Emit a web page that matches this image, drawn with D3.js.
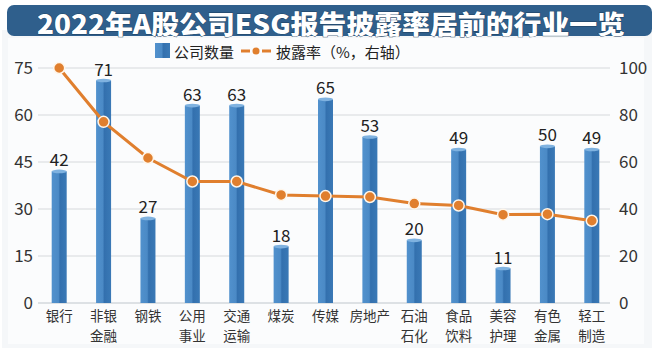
<!DOCTYPE html>
<html><head><meta charset="utf-8">
<script src="https://cdn.jsdelivr.net/npm/d3@7"></script>
<style>
html,body{margin:0;padding:0;background:#fff;}
svg{display:block;}
text{font-family:"Noto Sans CJK SC","Noto Sans",sans-serif;}
</style></head>
<body>
<svg id="c" width="660" height="356"></svg>
<script>
const categories = [["银行"],["非银","金融"],["钢铁"],["公用","事业"],["交通","运输"],["煤炭"],["传媒"],["房地产"],["石油","石化"],["食品","饮料"],["美容","护理"],["有色","金属"],["轻工","制造"]];
const companyCounts = [42,71,27,63,63,18,65,53,20,49,11,50,49];
const disclosureRate = [100,77.1,61.7,51.7,51.7,46.0,45.5,45.1,42.3,41.5,37.6,37.8,35.0];
const leftTicks = [0,15,30,45,60,75];
const rightTicks = [0,20,40,60,80,100];
const titleText = "2022年A股公司ESG报告披露率居前的行业一览";
const legendBar = "公司数量";
const legendLine = "披露率（%，右轴）";

const svg = d3.select("#c");
const W=660,H=356;
const m={left:37,right:614,top:68,bottom:303};

svg.append("rect").attr("x",0).attr("y",0).attr("width",W).attr("height",H).attr("fill","#ffffff");
svg.append("rect").attr("x",2).attr("y",30).attr("width",650).attr("height",318).attr("fill","#f5f7f9");
svg.append("rect").attr("x",8).attr("y",38).attr("width",636).attr("height",306).attr("fill","#ffffff").attr("opacity",0.6);

svg.append("rect").attr("x",7).attr("y",5).attr("width",645).attr("height",31).attr("rx",7).attr("fill","#2f5f8c");
svg.append("text").attr("x",331).attr("y",22).attr("text-anchor","middle").attr("dominant-baseline","central")
  .attr("font-size",26).attr("font-weight",900).attr("fill","#ffffff")
  .attr("stroke","#1d3f60").attr("stroke-width",0.8).attr("paint-order","stroke")
  .attr("textLength",588).attr("lengthAdjust","spacingAndGlyphs").text(titleText);

const x = d3.scaleBand().domain(d3.range(categories.length)).range([m.left,m.right]).padding(0);
const yL = d3.scaleLinear().domain([0,75]).range([m.bottom,m.top]);
const yR = d3.scaleLinear().domain([0,100]).range([m.bottom,m.top]);

const defs = svg.append("defs");
const g = defs.append("linearGradient").attr("id","bg").attr("x1","0").attr("x2","1").attr("y1","0").attr("y2","0");
g.append("stop").attr("offset","0%").attr("stop-color","#5191cd");
g.append("stop").attr("offset","45%").attr("stop-color","#4b8ac6");
g.append("stop").attr("offset","55%").attr("stop-color","#3370ae");
g.append("stop").attr("offset","100%").attr("stop-color","#3a79b6");

const grid = svg.append("g");
grid.selectAll("line").data(leftTicks).join("line")
  .attr("x1",38).attr("x2",610).attr("y1",d=>yL(d)).attr("y2",d=>yL(d))
  .attr("stroke",d=>d===0?"#bfc6cc":"#d6d9dc").attr("stroke-width",1);

const axL = svg.append("g").attr("transform",`translate(${m.left},0)`)
  .call(d3.axisLeft(yL).tickValues(leftTicks).tickSize(0).tickPadding(4));
axL.select(".domain").remove();
axL.selectAll("text").attr("font-size",17).attr("fill","#333").attr("font-family","Liberation Sans, Arial, sans-serif");

const axR = svg.append("g").attr("transform",`translate(617,0)`)
  .call(d3.axisRight(yR).tickValues(rightTicks).tickSize(0).tickPadding(2));
axR.select(".domain").remove();
axR.selectAll("text").attr("font-size",17).attr("fill","#333").attr("font-family","Liberation Sans, Arial, sans-serif");

const bw = 15;
const bars = svg.append("g");
bars.selectAll("rect").data(companyCounts).join("rect")
  .attr("x",(d,i)=>x(i)+x.bandwidth()/2-bw/2).attr("y",d=>yL(d))
  .attr("width",bw).attr("height",d=>yL(0)-yL(d)).attr("fill","url(#bg)");
bars.selectAll("ellipse").data(companyCounts).join("ellipse")
  .attr("cx",(d,i)=>x(i)+x.bandwidth()/2).attr("cy",d=>yL(d))
  .attr("rx",bw/2).attr("ry",1.8).attr("fill","#7fb2e0");

svg.append("g").selectAll("text").data(companyCounts).join("text")
  .attr("x",(d,i)=>x(i)+x.bandwidth()/2).attr("y",d=>yL(d)-5)
  .attr("text-anchor","middle").attr("font-size",17).attr("fill","#222")
  .attr("font-family","Liberation Sans, Arial, sans-serif").text(d=>d);

const line = d3.line().x((d,i)=>x(i)+x.bandwidth()/2).y(d=>yR(d));
svg.append("path").datum(disclosureRate).attr("d",line).attr("fill","none")
  .attr("stroke","#e07f2e").attr("stroke-width",3);
svg.append("g").selectAll("circle").data(disclosureRate).join("circle")
  .attr("cx",(d,i)=>x(i)+x.bandwidth()/2).attr("cy",d=>yR(d)).attr("r",5.5)
  .attr("fill","#e07f2e").attr("stroke","#fff6ea").attr("stroke-width",1.5);

const cg = svg.append("g");
categories.forEach((d,i)=>{
  d.forEach((s,k)=>{
    cg.append("text").attr("x",x(i)+x.bandwidth()/2).attr("y",321+k*20)
      .attr("text-anchor","middle").attr("font-size",13.5).attr("fill","#333").text(s);
  });
});

const lg = svg.append("g");
lg.append("rect").attr("x",155).attr("y",43).attr("width",15).attr("height",15).attr("fill","url(#bg)");
lg.append("text").attr("x",174).attr("y",51).attr("dominant-baseline","central").attr("font-size",15).attr("fill","#222").text(legendBar);
lg.append("line").attr("x1",241).attr("x2",250).attr("y1",51).attr("y2",51).attr("stroke","#e07f2e").attr("stroke-width",3);
lg.append("line").attr("x1",262).attr("x2",271).attr("y1",51).attr("y2",51).attr("stroke","#e07f2e").attr("stroke-width",3);
lg.append("circle").attr("cx",256).attr("cy",51).attr("r",3.5).attr("fill","#e07f2e");
lg.append("text").attr("x",276).attr("y",51).attr("dominant-baseline","central").attr("font-size",15).attr("fill","#222").text(legendLine);
</script>
</body></html>
